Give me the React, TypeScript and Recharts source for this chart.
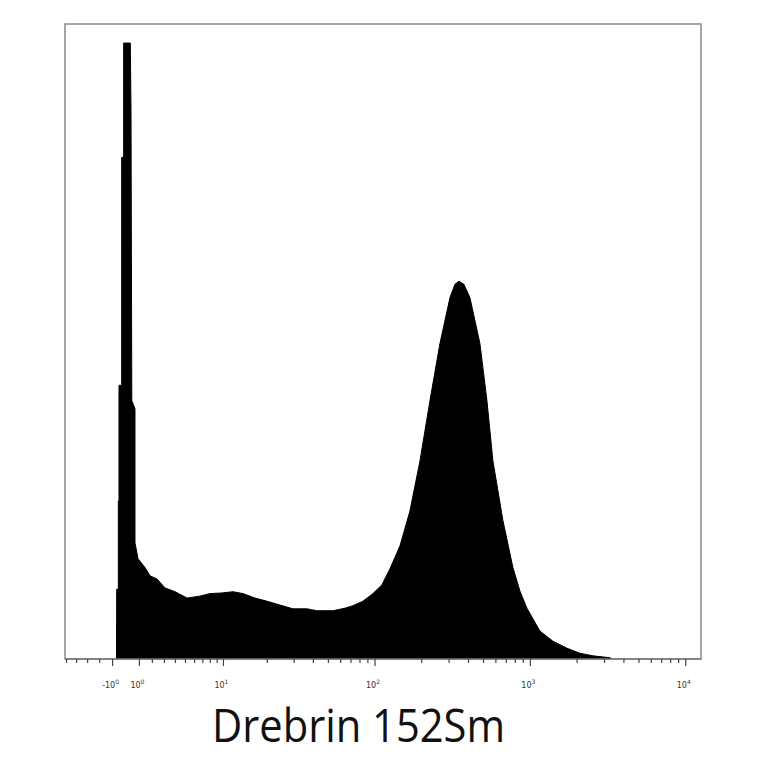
import React from 'react';
import { AreaChart, Area, XAxis, YAxis, ReferenceArea } from 'recharts';

// arcsinh cofactor used for the x scale (mass cytometry style)
const COFACTOR = 5;

// histogram outline: x in asinh(intensity / 5) units, y in relative events
const binPos = [
  -0.141, -0.138, -0.114, -0.114, -0.104, -0.104, -0.064, -0.064, -0.035, -0.035,
  0.064, 0.074, 0.086, 0.133, 0.133, 0.178, 0.281, 0.356, 0.459, 0.578,
  0.726, 0.904, 1.096, 1.244, 1.422, 1.585, 1.733, 1.911, 2.089, 2.281,
  2.474, 2.681, 2.83, 3.067, 3.244, 3.363, 3.511, 3.659, 3.793, 3.911,
  4.059, 4.207, 4.356, 4.504, 4.652, 4.8, 4.874, 4.933, 5.007, 5.096,
  5.244, 5.348, 5.437, 5.585, 5.733, 5.837, 5.941, 6.133, 6.326, 6.533,
  6.726, 6.919, 7.17, 7.2,
];
const counts = [
  0, 110, 110, 249, 249, 431, 431, 790, 790, 970,
  970, 864, 407, 394, 183, 158, 144, 131, 126, 112,
  106, 96, 99, 103, 104, 106, 103, 96, 91, 85,
  79, 79, 76, 76, 80, 84, 91, 103, 117, 142,
  178, 233, 312, 407, 497, 569, 590, 595, 590, 569,
  497, 407, 312, 218, 144, 107, 80, 44, 28, 17,
  9, 5, 2, 0,
];

// axis ticks (raw intensity values)
const majorTicks = [-1, 1, 10, 100, 1000, 10000];
const majorSign = ['-', '', '', '', '', ''];
const majorExp = ['0', '0', '1', '2', '3', '4'];
const minorTicks = [
  -5, -4, -3, -2,
  2, 3, 4, 5, 6, 7, 8, 9,
  20, 30, 40, 50, 60, 70, 80, 90,
  200, 300, 400, 500, 600, 700, 800, 900,
  2000, 3000, 4000, 5000, 6000, 7000, 8000, 9000,
];

const xTitle = 'Drebrin 152Sm';

const toAsinh = (v: number) => Math.asinh(v / COFACTOR);
const majorPos = majorTicks.map(toAsinh);
const allTicks = [...majorTicks, ...minorTicks].map(toAsinh).sort((a, b) => a - b);

const data = binPos.map((t, i) => ({ t, count: counts[i] }));

const AxisTick = ({ x, y, payload }: any) => {
  const idx = majorPos.findIndex((p) => Math.abs(p - payload.value) < 1e-9);
  const major = idx >= 0;
  return (
    <g>
      <line x1={x} x2={x} y1={y} y2={y + (major ? 7 : 4)} stroke="#444" strokeWidth={1.2} />
      {major && (
        <text
          x={x - 2}
          y={y + 29}
          textAnchor="middle"
          fontSize={8}
          fill="#333"
          fontFamily="DejaVu Sans, sans-serif"
        >
          {majorSign[idx]}10
          <tspan dy={-4} fontSize={6}>{majorExp[idx]}</tspan>
        </text>
      )}
    </g>
  );
};

export default function App() {
  return (
    <div style={{ position: 'absolute', left: 0, top: 0, width: 764, height: 764, background: '#fff' }}>
      <AreaChart
        width={764}
        height={764}
        data={data}
        margin={{ top: 24, right: 63, bottom: 75, left: 65 }}
      >
        <XAxis
          type="number"
          dataKey="t"
          domain={[-0.904, 8.52]}
          allowDataOverflow
          ticks={allTicks}
          interval={0}
          tick={<AxisTick />}
          tickLine={false}
          tickSize={0}
          tickMargin={0}
          axisLine={{ stroke: '#777', strokeWidth: 1.5 }}
          height={30}
        />
        <YAxis hide type="number" domain={[0, 1000]} allowDataOverflow />
        <ReferenceArea
          x1={-0.904}
          x2={8.52}
          y1={0}
          y2={1000}
          fill="none"
          stroke="#8a8a8a"
          strokeWidth={1.5}
        />
        <Area
          type="linear"
          dataKey="count"
          stroke="#000"
          strokeWidth={1}
          fill="#000"
          fillOpacity={1}
          isAnimationActive={false}
          dot={false}
          activeDot={false}
        />
      </AreaChart>
      <svg
        width={764}
        height={74}
        style={{ position: 'absolute', left: 0, top: 688 }}
      >
        <text
          x={358.5}
          y={54}
          textAnchor="middle"
          fontSize={46}
          fill="#111"
          fontFamily="Open Sans, sans-serif"
          textLength={293}
          lengthAdjust="spacingAndGlyphs"
        >
          {xTitle}
        </text>
      </svg>
    </div>
  );
}
